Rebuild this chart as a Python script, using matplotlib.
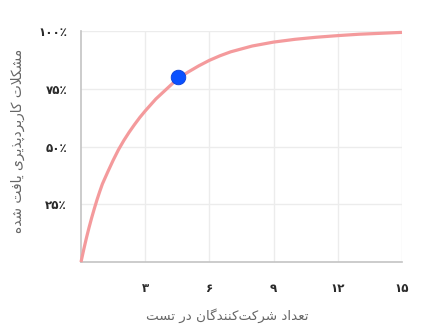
import matplotlib

matplotlib.use("Agg")
import matplotlib.pyplot as plt

# Participants in a usability test vs share of problems found
participants = [0, 0.125, 0.25, 0.375, 0.5, 0.625, 0.75, 0.875, 1, 1.25, 1.5, 1.75,
                2, 2.25, 2.5, 2.75, 3, 3.5, 4, 4.5, 5, 5.5, 6, 6.5, 7, 8, 9, 10,
                11, 12, 13, 14, 15]
found_pct = [0, 5.3, 10.3, 14.9, 19.2, 23.2, 27.0, 30.5, 33.8, 39.0, 44.0, 48.6,
             52.6, 56.2, 59.5, 62.6, 65.4, 70.6, 74.9, 79.2, 82.2, 84.9, 87.3,
             89.3, 91.0, 93.5, 95.2, 96.4, 97.3, 98.0, 98.6, 99.0, 99.4]
marker_x = [4.55]
marker_y = [80]

x_ticks = [3, 6, 9, 12, 15]
x_tick_labels = ["۳", "۶", "۹", "۱۲", "۱۵"]
y_ticks = [25, 50, 75, 100]
y_tick_labels = ["۲۵٪", "۵۰٪", "۷۵٪", "۱۰۰٪"]

x_title = "تعداد شرکت\u200cکنندگان در تست"
y_title = "مشکلات کاربردپذیری یافت شده"

# matplotlib has no Arabic shaping: map letters to presentation forms by hand
# (isolated, final, initial, medial)
FORMS = {
    "ا": ("\ufe8d", "\ufe8e", None, None),
    "د": ("\ufea9", "\ufeaa", None, None),
    "ذ": ("\ufeab", "\ufeac", None, None),
    "ر": ("\ufead", "\ufeae", None, None),
    "ب": ("\ufe8f", "\ufe90", "\ufe91", "\ufe92"),
    "پ": ("\ufb56", "\ufb57", "\ufb58", "\ufb59"),
    "ت": ("\ufe95", "\ufe96", "\ufe97", "\ufe98"),
    "س": ("\ufeb1", "\ufeb2", "\ufeb3", "\ufeb4"),
    "ش": ("\ufeb5", "\ufeb6", "\ufeb7", "\ufeb8"),
    "ع": ("\ufec9", "\ufeca", "\ufecb", "\ufecc"),
    "ف": ("\ufed1", "\ufed2", "\ufed3", "\ufed4"),
    "ک": ("\ufb8e", "\ufb8f", "\ufb90", "\ufb91"),
    "گ": ("\ufb92", "\ufb93", "\ufb94", "\ufb95"),
    "ل": ("\ufedd", "\ufede", "\ufedf", "\ufee0"),
    "م": ("\ufee1", "\ufee2", "\ufee3", "\ufee4"),
    "ن": ("\ufee5", "\ufee6", "\ufee7", "\ufee8"),
    "ه": ("\ufee9", "\ufeea", "\ufeeb", "\ufeec"),
    "ی": ("\ufbfc", "\ufbfd", "\ufbfe", "\ufbff"),
    "لا": ("\ufefb", "\ufefc", None, None),
}


def shape(text):
    # merge lam + alef into one unit
    units = []
    i = 0
    while i < len(text):
        if text[i] == "ل" and i + 1 < len(text) and text[i + 1] == "ا":
            units.append("لا")
            i += 2
        else:
            units.append(text[i])
            i += 1
    out = []
    for k, u in enumerate(units):
        if u == "\u200c":
            continue
        if u not in FORMS:
            out.append(u)
            continue
        prev = units[k - 1] if k > 0 else None
        nxt = units[k + 1] if k + 1 < len(units) else None
        join_prev = prev in FORMS and FORMS[prev][2] is not None
        join_next = FORMS[u][2] is not None and nxt in FORMS
        iso, fin, ini, med = FORMS[u]
        if join_prev and join_next:
            out.append(med)
        elif join_prev:
            out.append(fin)
        elif join_next:
            out.append(ini)
        else:
            out.append(iso)
    return "".join(reversed(out))


fig = plt.figure(figsize=(4.46, 3.28), dpi=100)
ax = fig.add_axes([0.1816, 0.201, 0.7197, 0.7045])

ax.plot(participants, found_pct, color="#f49a9c", lw=2.3, solid_capstyle="butt",
        solid_joinstyle="round", zorder=3, clip_on=False)
ax.plot(marker_x, marker_y, "o", color="#0a50ff", markersize=10.5,
        markeredgecolor="#0a3fd8", markeredgewidth=0.6, zorder=4)

ax.set_xlim(0, 15)
ax.set_ylim(0, 100)
ax.set_xticks(x_ticks)
ax.set_xticklabels(x_tick_labels, fontweight="bold")
ax.set_yticks(y_ticks)
ax.set_yticklabels(y_tick_labels, fontweight="bold")
ax.tick_params(length=0, labelsize=8.6, labelcolor="#2a2a2a")
ax.tick_params(axis="x", pad=14)
ax.tick_params(axis="y", pad=10)

ax.grid(True, color="#ececec", lw=1)
ax.set_axisbelow(True)
for side in ("top", "right"):
    ax.spines[side].set_visible(False)
for side in ("left", "bottom"):
    ax.spines[side].set_color("#c4c4c4")
    ax.spines[side].set_linewidth(1.2)

fig.text(0.51, 0.037, shape(x_title), ha="center", va="center",
         fontsize=9.7, color="#666666")
fig.text(0.04, 0.57, shape(y_title), ha="center", va="center",
         rotation=90, fontsize=9.9, color="#666666")

fig.savefig("out.png", dpi=100)
